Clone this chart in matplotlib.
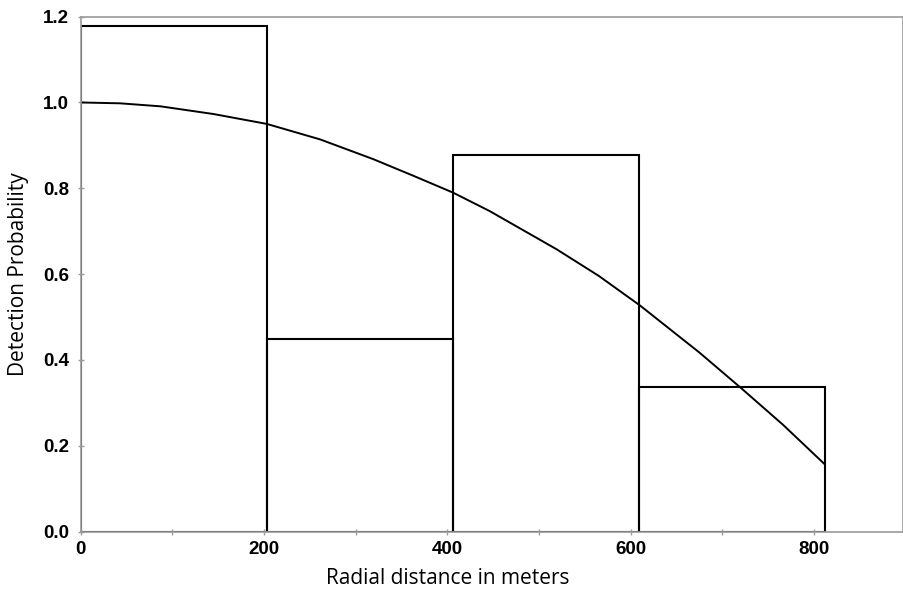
import matplotlib
matplotlib.use('Agg')
from matplotlib import pyplot as plt
from matplotlib.ticker import MultipleLocator

# histogram bins (meters) and heights
bin_edges = [0, 203, 406, 609, 812]
bar_heights = [1.179, 0.450, 0.877, 0.337]

# fitted detection curve
curve_x = [0, 43, 87, 145, 203, 261, 319, 363, 406, 446, 519, 565, 610, 675, 720, 766, 811]
curve_y = [1.0, 0.998, 0.991, 0.973, 0.950, 0.914, 0.868, 0.829, 0.790, 0.747, 0.658,
           0.596, 0.527, 0.417, 0.335, 0.249, 0.158]

x_ticks = [0, 200, 400, 600, 800]
y_ticks = [0.0, 0.2, 0.4, 0.6, 0.8, 1.0, 1.2]

fig = plt.figure(figsize=(9.04, 5.94), dpi=100)
ax = fig.add_axes([0.0893, 0.105, 0.9097, 0.867])

lefts = bin_edges[:-1]
widths = [bin_edges[i + 1] - bin_edges[i] for i in range(len(lefts))]
ax.bar(lefts, bar_heights, width=widths, align='edge', fill=False,
       edgecolor='black', linewidth=1.5)

ax.plot(curve_x, curve_y, color='black', linewidth=1.4)

ax.set_xlim(0, 897)
ax.set_ylim(0, 1.2)
ax.set_xticks(x_ticks)
ax.set_xticklabels([str(t) for t in x_ticks])
ax.xaxis.set_minor_locator(MultipleLocator(100))
ax.set_yticks(y_ticks)
ax.set_yticklabels(['%.1f' % t for t in y_ticks])

for s in ax.spines.values():
    s.set_color('#9a9a9a')
    s.set_linewidth(1.2)

ax.tick_params(axis='both', which='both', direction='inout', color='#9a9a9a',
               length=5, width=1)
ax.tick_params(axis='both', labelsize=13.5)
for lab in ax.get_xticklabels() + ax.get_yticklabels():
    lab.set_family('Liberation Sans')
    lab.set_fontweight('bold')
ax.tick_params(axis='x', pad=4)
ax.tick_params(axis='y', pad=6)

ax.set_xlabel('Radial distance in meters', fontsize=15, family='Open Sans', labelpad=5)
ax.xaxis.set_label_coords(0.4465, -0.07)
ax.set_ylabel('Detection Probability', fontsize=15, family='Open Sans', labelpad=10)

fig.savefig('out.png', dpi=100)
